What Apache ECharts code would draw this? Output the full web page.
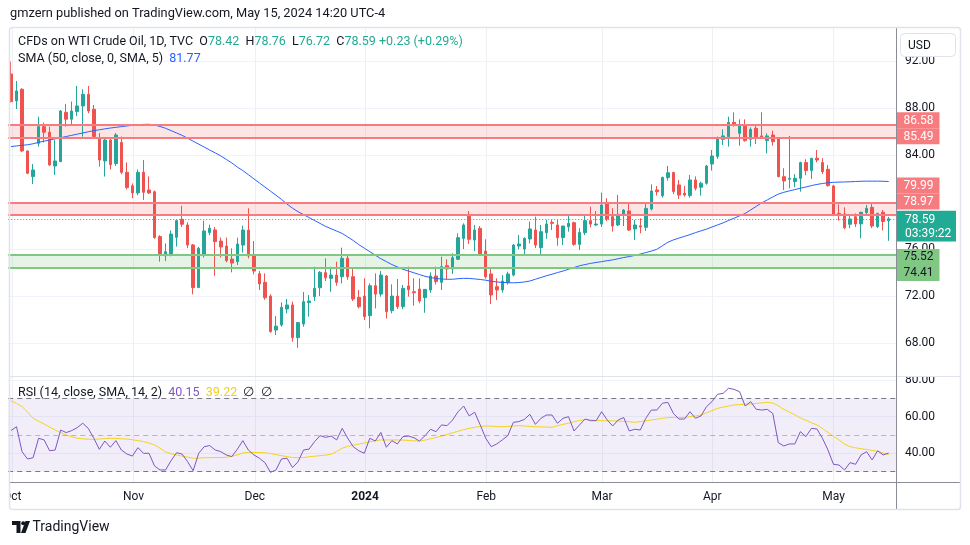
<!DOCTYPE html>
<html><head><meta charset="utf-8">
<script src="https://cdn.jsdelivr.net/npm/echarts@6/dist/echarts.min.js"></script>
<style>html,body{margin:0;padding:0;background:#fff}#c{width:970px;height:545px}</style>
</head><body><div id="c"></div>
<script>
// ---------- data ----------
const dates = [
'2023-10-02','2023-10-03','2023-10-04','2023-10-05','2023-10-06','2023-10-09','2023-10-10','2023-10-11','2023-10-12','2023-10-13','2023-10-16','2023-10-17','2023-10-18','2023-10-19','2023-10-20','2023-10-23','2023-10-24','2023-10-25','2023-10-26','2023-10-27','2023-10-30','2023-10-31',
'2023-11-01','2023-11-02','2023-11-03','2023-11-06','2023-11-07','2023-11-08','2023-11-09','2023-11-10','2023-11-13','2023-11-14','2023-11-15','2023-11-16','2023-11-17','2023-11-20','2023-11-21','2023-11-22','2023-11-23','2023-11-24','2023-11-27','2023-11-28','2023-11-29','2023-11-30',
'2023-12-01','2023-12-04','2023-12-05','2023-12-06','2023-12-07','2023-12-08','2023-12-11','2023-12-12','2023-12-13','2023-12-14','2023-12-15','2023-12-18','2023-12-19','2023-12-20','2023-12-21','2023-12-22','2023-12-26','2023-12-27','2023-12-28','2023-12-29',
'2024-01-02','2024-01-03','2024-01-04','2024-01-05','2024-01-08','2024-01-09','2024-01-10','2024-01-11','2024-01-12','2024-01-15','2024-01-16','2024-01-17','2024-01-18','2024-01-19','2024-01-22','2024-01-23','2024-01-24','2024-01-25','2024-01-26','2024-01-29','2024-01-30','2024-01-31',
'2024-02-01','2024-02-02','2024-02-05','2024-02-06','2024-02-07','2024-02-08','2024-02-09','2024-02-12','2024-02-13','2024-02-14','2024-02-15','2024-02-16','2024-02-19','2024-02-20','2024-02-21','2024-02-22','2024-02-23','2024-02-26','2024-02-27','2024-02-28','2024-02-29',
'2024-03-01','2024-03-04','2024-03-05','2024-03-06','2024-03-07','2024-03-08','2024-03-11','2024-03-12','2024-03-13','2024-03-14','2024-03-15','2024-03-18','2024-03-19','2024-03-20','2024-03-21','2024-03-22','2024-03-25','2024-03-26','2024-03-27','2024-03-28',
'2024-04-01','2024-04-02','2024-04-03','2024-04-04','2024-04-05','2024-04-08','2024-04-09','2024-04-10','2024-04-11','2024-04-12','2024-04-15','2024-04-16','2024-04-17','2024-04-18','2024-04-19','2024-04-22','2024-04-23','2024-04-24','2024-04-25','2024-04-26','2024-04-29','2024-04-30',
'2024-05-01','2024-05-02','2024-05-03','2024-05-06','2024-05-07','2024-05-08','2024-05-09','2024-05-10','2024-05-13','2024-05-14','2024-05-15'];

const opens = [90.92,88.63,89.62,84.37,82.19,85.02,86.44,85.96,83.09,83.46,
87.66,87.07,87.72,88.2,89.19,87.92,85.45,83.52,85.3,83.3,
85.1,82.55,81.4,80.8,82.55,81.05,80.9,77.08,75.45,75.6,
77.02,78.55,78.07,76.37,72.74,75.58,77.42,77.65,76.7,76.28,
75.17,74.95,76.36,77.64,75.51,73.92,73.19,72.02,69.13,69.56,
70.92,71.26,68.48,69.64,71.46,71.97,72.73,74.01,73.53,73.81,
73.67,75.23,73.67,71.91,72.02,70.35,72.9,72.19,73.73,70.78,
72.02,71.12,72.88,72.39,72.62,71.88,72.54,73.73,73.19,74.6,
74.32,75.15,76.93,78.83,76.79,77.78,75.85,73.9,72.82,72.54,
73.19,73.81,76.28,76.02,76.88,77.64,76.14,77.41,78.3,78.07,
76.99,77.92,78.27,76.42,77.41,78.44,78.07,78.15,79.99,78.78,
78.07,78.92,79.26,77.73,78.0,77.87,79.43,81.05,80.56,82.1,
82.53,81.48,80.77,80.57,81.9,81.28,81.62,83.26,83.89,85.36,
85.59,86.81,85.87,86.58,85.36,86.3,85.65,85.25,85.73,85.45,
82.18,81.96,81.76,82.04,83.38,82.7,83.75,83.38,82.81,81.39,
79.06,79.01,78.13,78.78,78.16,79.12,79.57,77.93,79.15,78.42];

const highs = [91.97,90.33,89.7,84.4,83.26,87.29,86.78,86.44,85.31,87.86,
88.37,88.57,89.9,89.62,89.9,88.28,85.9,85.45,85.5,85.9,
85.6,83.4,81.6,82.8,83.6,82.2,81.0,77.2,76.5,77.6,
78.5,79.7,78.3,76.45,76.2,78.44,78.1,77.9,77.0,77.0,
76.08,76.99,78.01,79.49,76.7,74.15,73.95,72.17,70.32,71.48,
71.77,71.54,69.8,72.36,72.11,74.52,74.15,75.23,74.52,74.95,
76.14,75.51,74.32,72.53,73.53,73.1,73.95,74.15,73.81,73.02,
73.47,72.96,74.52,73.53,73.53,72.6,74.04,74.52,75.37,75.15,
75.66,77.36,78.21,79.26,78.07,77.98,76.85,74.38,73.53,73.81,
74.1,76.45,77.22,77.02,78.35,78.78,78.07,78.5,78.5,78.5,
78.0,78.86,78.35,77.8,78.92,79.63,79.26,80.82,80.34,79.5,
80.62,79.43,79.97,78.5,78.64,79.91,81.53,81.39,82.18,83.1,
82.6,81.9,81.4,82.33,82.2,81.76,83.18,84.45,85.6,86.21,
87.29,87.66,87.06,87.06,86.38,86.58,87.66,85.87,86.1,85.5,
82.9,85.65,82.4,83.46,83.66,83.75,84.45,83.75,83.18,81.48,
79.83,79.57,79.0,79.06,79.2,79.77,79.91,79.1,79.35,78.76];

const lows = [88.5,87.94,84.26,82.4,81.56,84.74,85.1,83.1,82.33,83.46,
86.44,86.53,87.35,85.59,87.58,85.4,83.04,82.19,82.8,83.1,
82.4,81.1,80.35,80.6,80.2,80.7,76.9,74.95,75.0,75.4,
76.23,77.9,76.1,72.17,72.7,75.3,77.2,73.76,75.3,74.9,
74.04,74.66,75.71,75.23,73.87,72.53,71.7,68.9,68.7,69.41,
70.55,68.14,67.63,69.41,70.26,71.6,72.02,73.3,72.39,72.9,
73.1,73.4,71.6,70.97,69.98,69.27,70.97,71.97,70.12,70.55,
70.92,70.9,71.97,71.2,71.4,70.6,72.3,73.0,72.54,73.47,
73.9,75.09,76.02,76.45,75.85,75.43,73.5,71.34,71.68,72.31,
73.0,73.7,76.0,75.51,76.5,76.1,75.51,76.9,77.64,76.3,
76.36,77.5,76.3,75.94,77.2,77.87,77.98,77.9,78.4,77.5,
77.98,77.98,77.56,76.79,77.36,77.56,79.3,80.57,80.4,81.84,
80.7,80.28,80.48,80.4,81.0,80.57,81.5,82.7,83.7,84.88,
84.74,86.44,84.82,85.16,84.74,84.96,85.4,84.17,84.82,82.13,
81.05,81.19,81.28,80.91,82.3,81.99,83.4,82.4,81.33,78.87,
78.44,77.7,77.79,77.9,76.94,79.0,77.8,77.8,77.6,76.72];

const closes = [88.57,89.48,84.37,82.47,82.75,86.44,85.96,83.18,83.52,87.77,
87.07,87.77,88.2,89.19,87.77,85.6,83.6,85.3,83.2,85.73,
82.55,81.25,80.8,82.55,80.85,80.8,77.0,75.52,75.8,77.3,
78.44,78.13,76.37,72.74,76.09,77.56,77.79,76.65,76.2,75.03,
74.83,76.45,77.64,75.43,74.15,73.05,71.88,68.99,69.46,71.06,
71.26,68.48,69.76,71.54,71.6,72.68,74.04,73.58,73.81,73.19,
75.23,73.67,71.77,71.12,70.27,72.9,72.19,73.81,70.69,72.02,
71.12,72.68,72.56,72.3,71.6,72.59,73.73,73.25,74.52,74.32,
75.29,76.99,78.07,76.85,77.64,75.57,73.67,72.11,72.54,73.3,
73.9,76.36,76.45,76.93,77.73,76.36,77.5,78.15,78.21,76.99,
77.98,78.21,76.42,77.44,78.44,78.15,78.15,79.77,78.58,77.98,
78.97,79.34,77.64,78.07,77.9,79.48,80.96,80.9,82.12,82.52,
80.91,80.62,80.62,81.9,81.19,81.62,83.09,83.94,85.5,85.65,
86.81,86.58,86.58,85.25,86.21,85.45,85.45,85.65,85.16,82.18,
81.82,82.04,82.04,83.38,82.7,83.75,83.6,82.61,81.42,78.92,
78.87,77.84,78.58,78.16,79.15,79.49,77.98,79.06,78.36,78.59];

const sma50 = [84.74,84.8,84.85,84.9,84.98,85.1,85.2,85.3,85.4,85.5,
85.6,85.7,85.8,85.9,86.0,86.1,86.17,86.25,86.32,86.38,
86.44,86.5,86.55,86.6,86.63,86.64,86.58,86.45,86.3,86.1,
85.9,85.7,85.45,85.2,84.95,84.7,84.45,84.2,83.95,83.65,
83.35,83.0,82.7,82.35,82.0,81.65,81.3,80.95,80.6,80.25,
79.85,79.5,79.2,78.95,78.7,78.45,78.2,77.95,77.75,77.55,
77.35,77.05,76.75,76.4,76.1,75.8,75.5,75.2,74.95,74.7,
74.5,74.3,74.15,74.0,73.85,73.7,73.6,73.52,73.47,73.45,
73.45,73.5,73.53,73.52,73.48,73.43,73.37,73.28,73.22,73.18,
73.16,73.15,73.17,73.22,73.3,73.45,73.6,73.75,73.88,74.02,
74.15,74.3,74.45,74.6,74.7,74.8,74.88,74.95,75.03,75.1,
75.2,75.3,75.38,75.48,75.6,75.72,75.85,76.0,76.3,76.6,
76.8,76.95,77.1,77.25,77.42,77.57,77.72,77.9,78.07,78.25,
78.45,78.65,78.85,79.05,79.35,79.65,79.95,80.2,80.45,80.7,
80.85,80.97,81.08,81.2,81.3,81.42,81.52,81.6,81.66,81.7,
81.72,81.73,81.75,81.77,81.79,81.8,81.8,81.8,81.79,81.77];

const rsi = [52.4,54.5,40.9,36.9,37.6,48.2,47.3,41.4,41.8,52.7,
51.3,52.4,54.0,56.4,53.6,48.2,42.2,46.7,43.3,46.9,
41.8,39.6,38.5,43.1,40.0,40.0,33.1,30.9,30.9,36.0,
40.3,39.6,35.4,30.5,40.0,43.6,44.2,41.8,40.9,39.1,
38.2,42.2,46.9,41.8,39.1,37.3,34.9,29.6,30.9,36.9,
37.3,32.2,35.4,41.8,42.3,46.4,49.6,48.7,49.4,47.3,
53.6,48.2,43.6,41.4,40.0,48.2,46.7,51.4,43.3,46.9,
45.1,49.1,49.4,48.5,46.7,49.6,53.1,51.8,55.5,55.1,
58.2,62.7,65.8,60.4,62.4,55.5,48.2,43.6,45.1,47.3,
49.6,56.9,57.3,58.5,61.3,55.8,59.1,60.9,60.9,56.4,
59.1,60.0,52.2,55.5,58.7,57.8,57.8,62.7,58.2,54.9,
58.2,59.5,52.2,53.1,52.7,59.1,63.6,63.6,67.3,67.8,
61.8,58.7,58.7,62.7,59.1,60.4,65.5,68.2,72.2,72.7,
75.5,74.9,73.6,65.8,68.2,64.0,63.6,64.0,61.8,45.8,
44.0,45.1,45.1,51.8,49.1,53.6,53.3,48.2,41.8,34.0,
33.6,30.9,34.9,34.0,39.1,40.9,36.4,41.4,39.1,40.15];

const rsiMa = [68.7,67.2,65.5,62.5,59.1,57.5,56.0,54.3,52.7,51.3,
50.0,49.0,48.2,47.9,47.7,47.6,47.8,48.0,48.2,48.1,
47.9,47.8,47.4,46.9,46.4,45.6,44.6,42.8,40.8,39.8,
39.1,38.5,37.9,37.3,37.4,37.6,37.6,37.7,37.7,37.8,
38.4,39.1,40.2,40.5,40.5,40.4,40.3,39.9,39.3,38.7,
38.2,37.7,37.6,37.7,38.1,38.4,38.7,39.0,39.5,41.0,
42.8,43.8,44.4,45.0,45.6,46.3,46.8,47.3,47.3,47.3,
47.3,47.2,47.0,46.8,46.7,47.2,47.9,48.6,49.4,50.3,
51.2,52.0,52.9,53.6,54.2,54.6,54.9,54.8,54.6,54.5,
54.7,54.9,55.1,54.9,54.7,54.5,54.4,54.3,54.2,55.0,
55.8,56.4,57.2,57.9,58.5,58.2,57.9,57.8,57.7,57.7,
57.6,57.4,57.2,56.9,57.3,57.7,58.2,58.6,59.1,59.5,
59.6,59.6,59.6,60.0,60.4,60.9,62.0,63.3,64.5,65.2,
65.8,66.4,66.6,66.8,66.9,67.2,67.5,67.8,67.4,66.0,
64.0,62.5,61.0,59.3,58.0,56.7,55.5,53.5,51.4,49.3,
47.3,45.0,43.6,43.0,42.5,42.1,41.6,41.0,40.2,39.22];

const zoneRed1 = [85.49, 86.58];
const zoneRed2 = [78.97, 79.99];
const zoneGreen = [74.41, 75.52];
const lastPrice = 78.59;
const countdown = '03:39:22';
const priceTicks = [68, 72, 76, 80, 84, 88, 92];
const rsiTicks = [40, 60, 80];
const rsiLevels = [70, 50, 30];
const timeLabels = {'2023-10-02':'Oct','2023-11-01':'Nov','2023-12-01':'Dec','2024-01-02':'2024',
  '2024-02-01':'Feb','2024-03-01':'Mar','2024-04-01':'Apr','2024-05-01':'May'};

// ---------- chart ----------
const FONT = 'Roboto, "Liberation Sans", sans-serif';
const cats = dates.concat(['']);
const candles = opens.map((o, i) => [o, closes[i], lows[i], highs[i]]);
const RED = '#f77c80', GREEN = '#81c784', TEAL = '#22ab94';

const chart = echarts.init(document.getElementById('c'), null, {renderer: 'canvas'});
const hiddenX = (gi) => ({gridIndex: gi, type: 'category', data: cats, boundaryGap: true, show: false});
const rs = (c) => ({fontFamily: FONT, fontSize: 12.5, color: c});
chart.setOption({
  animation: false,
  backgroundColor: '#ffffff',
  textStyle: {fontFamily: FONT},
  title: [
    {left: 10, top: 7, padding: 0, text: 'gmzern published on TradingView.com, May 15, 2024 14:20 UTC-4',
     textStyle: {fontFamily: FONT, fontSize: 12.8, fontWeight: 'normal', color: '#131722'}},
    {left: 18, top: 35, padding: 0,
     text: '{a|CFDs on WTI Crude Oil, 1D, TVC}  {a|O}{g|78.42}  {a|H}{g|78.76}  {a|L}{g|76.72}  {a|C}{g|78.59} {g|+0.23 (+0.29%)}',
     textStyle: {fontFamily: FONT, fontSize: 12.5, fontWeight: 'normal', rich: {a: rs('#131722'), g: rs(TEAL)}}},
    {left: 18, top: 52, padding: 0,
     text: '{a|SMA (50, close, 0, SMA, 5)}  {b|81.77}',
     textStyle: {fontFamily: FONT, fontSize: 12.5, fontWeight: 'normal', rich: {a: rs('#131722'), b: rs('#2962ff')}}},
    {left: 18, top: 386, padding: 0,
     text: '{a|RSI (14, close, SMA, 14, 2)}  {p|40.15}  {y|39.22}  {a|∅}  {a|∅}',
     textStyle: {fontFamily: FONT, fontSize: 12.5, fontWeight: 'normal', rich: {a: rs('#131722'), p: rs('#7e57c2'), y: rs('#f2cf1d')}}}
  ],
  grid: [
    {left: 8.24, top: 14.3, width: 888.72, height: 376},
    {left: 8.24, top: 343.35, width: 888.72, height: 146.6},
    {left: 11, top: 27, width: 883.2, height: 455}
  ],
  xAxis: [
    hiddenX(0), hiddenX(1),
    {gridIndex: 2, type: 'category', data: cats, boundaryGap: false,
     axisLine: {show: false}, axisTick: {show: false},
     axisLabel: {interval: (i, v) => !!timeLabels[v], margin: 9, fontSize: 12, color: '#131722', fontFamily: FONT,
       formatter: (v) => timeLabels[v] === '2024' ? '{b|2024}' : (timeLabels[v] || ''),
       rich: {b: {fontWeight: 'bold', fontSize: 12, color: '#131722', fontFamily: FONT}}},
     splitLine: {show: true, interval: (i, v) => !!timeLabels[v], lineStyle: {color: '#eef0f6', width: 1}}}
  ],
  yAxis: [
    {gridIndex: 0, type: 'value', position: 'right', min: 64, max: 96, interval: 4,
     axisLine: {show: false}, axisTick: {show: false},
     axisLabel: {margin: 8, fontSize: 12, color: '#131722', fontFamily: FONT,
       formatter: (v) => priceTicks.includes(v) ? v.toFixed(2) : ''},
     splitLine: {show: true, showMinLine: false, showMaxLine: false, lineStyle: {color: '#f0f3fa'}}},
    {gridIndex: 1, type: 'value', position: 'right', min: 20, max: 100, interval: 20,
     axisLine: {show: false}, axisTick: {show: false},
     axisLabel: {margin: 8, fontSize: 12, color: '#131722', fontFamily: FONT,
       formatter: (v) => rsiTicks.includes(v) ? v.toFixed(2) : ''},
     splitLine: {show: true, showMinLine: false, showMaxLine: false, lineStyle: {color: '#f0f3fa'}}},
    {gridIndex: 2, type: 'value', show: false, splitLine: {show: false}}
  ],
  series: [
    {type: 'candlestick', xAxisIndex: 0, yAxisIndex: 0, data: candles, barWidth: 3,
     itemStyle: {color: '#26a69a', color0: '#ef5350', borderColor: '#26a69a', borderColor0: '#ef5350', borderWidth: 1},
     markArea: {silent: true, data: [
       [{yAxis: zoneRed1[0], itemStyle: {color: 'rgba(247,124,128,0.2)'}}, {yAxis: zoneRed1[1]}],
       [{yAxis: zoneRed2[0], itemStyle: {color: 'rgba(247,124,128,0.2)'}}, {yAxis: zoneRed2[1]}],
       [{yAxis: zoneGreen[0], itemStyle: {color: 'rgba(129,199,132,0.2)'}}, {yAxis: zoneGreen[1]}]
     ]},
     markLine: {silent: true, symbol: ['none', 'none'], label: {show: false}, data: [
       {yAxis: zoneRed1[0], lineStyle: {color: RED, width: 2, type: 'solid'}},
       {yAxis: zoneRed1[1], lineStyle: {color: RED, width: 2, type: 'solid'}},
       {yAxis: zoneRed2[0], lineStyle: {color: RED, width: 2, type: 'solid'}},
       {yAxis: zoneRed2[1], lineStyle: {color: RED, width: 2, type: 'solid'}},
       {yAxis: zoneGreen[0], lineStyle: {color: GREEN, width: 2, type: 'solid'}},
       {yAxis: zoneGreen[1], lineStyle: {color: GREEN, width: 2, type: 'solid'}},
       {yAxis: lastPrice, lineStyle: {color: TEAL, width: 1, type: [1, 2]}}
     ]}},
    {type: 'line', xAxisIndex: 0, yAxisIndex: 0, data: sma50, showSymbol: false, symbol: 'none', z: 3,
     lineStyle: {color: '#2962ff', width: 1}},
    {type: 'line', xAxisIndex: 1, yAxisIndex: 1, data: rsi, showSymbol: false, symbol: 'none', z: 4,
     lineStyle: {color: '#7e57c2', width: 1},
     markArea: {silent: true, data: [[{yAxis: rsiLevels[2], itemStyle: {color: 'rgba(126,87,194,0.1)'}}, {yAxis: rsiLevels[0]}]]},
     markLine: {silent: true, symbol: ['none', 'none'], label: {show: false}, data: [
       {yAxis: rsiLevels[0], lineStyle: {color: '#787b86', width: 1, type: [5, 4]}},
       {yAxis: rsiLevels[1], lineStyle: {color: 'rgba(120,123,134,0.5)', width: 1, type: [5, 4]}},
       {yAxis: rsiLevels[2], lineStyle: {color: '#787b86', width: 1, type: [5, 4]}}
     ]}},
    {type: 'line', xAxisIndex: 1, yAxisIndex: 1, data: rsiMa, showSymbol: false, symbol: 'none', z: 3,
     lineStyle: {color: '#f5d31e', width: 1}}
  ]
});

// ---------- overlays (frame, price tags, logo) ----------
const py = (v) => chart.convertToPixel({yAxisIndex: 0}, v);
const txt = (x, y, s, fill, font, align) => ({type: 'text', x: x, y: y, z: 120,
  style: {text: s, fill: fill, font: font, align: align || 'left', verticalAlign: 'middle', textAlign: align || 'left', textVerticalAlign: 'middle'}});
const tagSpec = [
  {v: zoneRed1[1], bg: RED, fg: '#ffffff', dy: -4.7},
  {v: zoneRed1[0], bg: RED, fg: '#ffffff', dy: -1.5},
  {v: zoneRed2[1], bg: RED, fg: '#ffffff', dy: -17},
  {v: zoneRed2[0], bg: RED, fg: '#ffffff', dy: -13},
  {v: zoneGreen[1], bg: GREEN, fg: '#131722', dy: 2},
  {v: zoneGreen[0], bg: GREEN, fg: '#131722', dy: 5}
];
const g = [
  {type: 'rect', z: 90, shape: {x: 0, y: 484, width: 9.6, height: 24}, style: {fill: '#ffffff'}},
  {type: 'rect', z: 90, shape: {x: 897.5, y: 368, width: 61, height: 8.5}, style: {fill: '#ffffff'}},
  {type: 'line', z: 95, shape: {x1: 9, y1: 376.5, x2: 960, y2: 376.5}, style: {stroke: '#e0e3eb', lineWidth: 1}},
  {type: 'line', z: 95, shape: {x1: 9, y1: 482.5, x2: 960, y2: 482.5}, style: {stroke: '#8a8d96', lineWidth: 1}},
  {type: 'line', z: 95, shape: {x1: 896.5, y1: 27, x2: 896.5, y2: 509}, style: {stroke: '#8a8d96', lineWidth: 1}},
  {type: 'rect', z: 96, shape: {x: 9.5, y: 27.5, width: 951, height: 482, r: 3}, style: {fill: 'none', stroke: '#e0e3eb', lineWidth: 1.5}},
  {type: 'rect', z: 110, shape: {x: 900.5, y: 33.5, width: 55, height: 23, r: 4}, style: {fill: '#ffffff', stroke: '#e0e3eb', lineWidth: 1}},
  txt(908, 45.5, 'USD', '#131722', '12px ' + FONT)
];
tagSpec.forEach(t => {
  const y = py(t.v) + t.dy;
  g.push({type: 'rect', z: 115, shape: {x: 897, y: y - 8, width: 42.5, height: 16}, style: {fill: t.bg}});
  g.push(txt(918.5, y + 0.5, t.v.toFixed(2), t.fg, '12px ' + FONT, 'center'));
});
{
  const y = py(lastPrice);
  g.push({type: 'rect', z: 115, shape: {x: 897, y: y - 8, width: 59, height: 30.7}, style: {fill: TEAL}});
  g.push(txt(905, y + 1.3, lastPrice.toFixed(2), '#ffffff', '12px ' + FONT));
  g.push(txt(905, y + 14.8, countdown, '#ffffff', '12px ' + FONT));
}
// TradingView logo
g.push({type: 'polygon', z: 120, shape: {points: [[12, 521], [20.5, 521], [20.5, 533], [16.5, 533], [16.5, 525], [12, 525]]}, style: {fill: '#131722'}});
g.push({type: 'circle', z: 120, shape: {cx: 23.2, cy: 523.2, r: 2}, style: {fill: '#131722'}});
g.push({type: 'polygon', z: 120, shape: {points: [[25.5, 521], [30, 521], [25.5, 533], [21, 533]]}, style: {fill: '#131722'}});
g.push(txt(32.5, 527.5, 'TradingView', '#131722', '14px ' + FONT));
chart.setOption({graphic: g});
</script>
</body></html>
